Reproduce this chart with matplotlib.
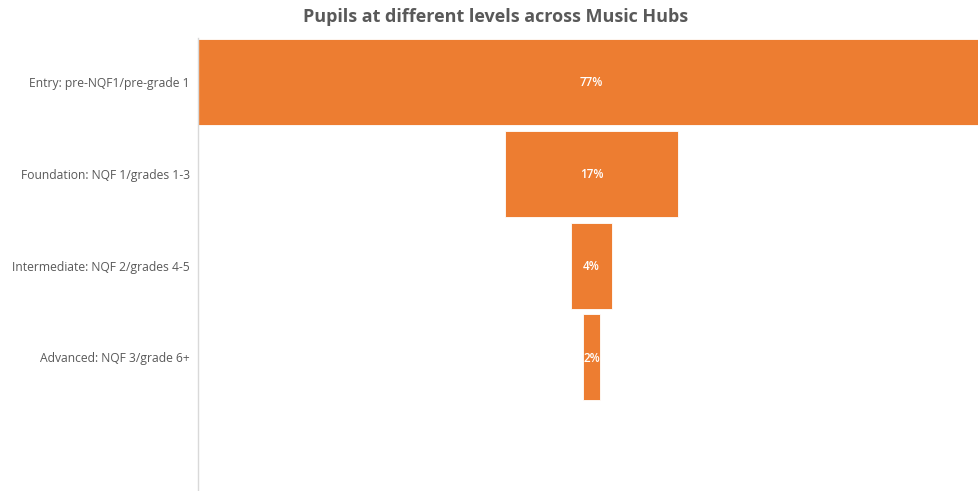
import matplotlib.pyplot as plt

levels = [
    "Entry: pre-NQF1/pre-grade 1",
    "Foundation: NQF 1/grades 1-3",
    "Intermediate: NQF 2/grades 4-5",
    "Advanced: NQF 3/grade 6+",
]
shares = [77, 17, 4, 1.7]
share_labels = ["77%", "17%", "4%", "2%"]

ORANGE = "#ED7D31"
GREY = "#595959"

plt.rcParams["font.family"] = ["Open Sans", "DejaVu Sans"]

fig = plt.figure(figsize=(9.79, 4.91), dpi=100)
ax = fig.add_axes([198 / 979, 0.0, 1 - 198 / 979, 1 - 38 / 491])

ypos = list(range(len(levels)))
lefts = [-s / 2 for s in shares]
ax.barh(ypos, shares, left=lefts, height=0.937, color=ORANGE,
        edgecolor="white", linewidth=0.6)

for y, lab in zip(ypos, share_labels):
    ax.text(0, y + 0.01, lab, ha="center", va="center", color="white",
            fontsize=8.5, fontweight="semibold")

ax.set_xlim(-38.5, 37.9)
ax.set_ylim(4.455, -0.48)
ax.set_yticks(ypos)
ax.set_yticklabels(levels, fontsize=8.7, color=GREY)
ax.tick_params(axis="y", length=0, pad=6)
ax.set_xticks([])

for side in ["top", "right", "bottom"]:
    ax.spines[side].set_visible(False)
ax.spines["left"].set_color("#d9d9d9")
ax.spines["left"].set_linewidth(1.0)

fig.text(0.506, 1 - 17 / 491, "Pupils at different levels across Music Hubs",
         ha="center", va="center", fontsize=13, fontweight="bold", color=GREY)

fig.savefig("out.png", dpi=100)
